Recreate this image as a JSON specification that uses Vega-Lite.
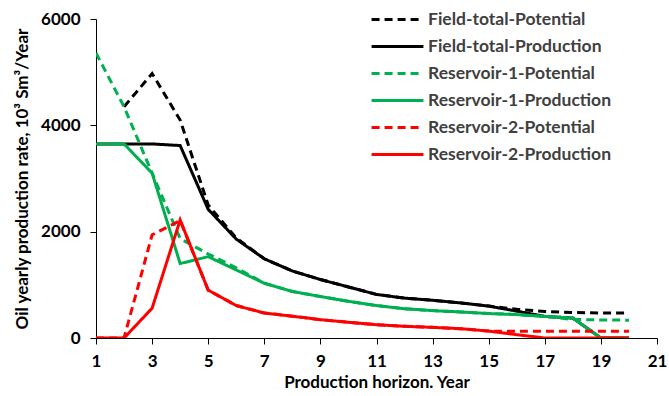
{
  "$schema": "https://vega.github.io/schema/vega-lite/v6.json",
  "width": 561,
  "height": 319,
  "autosize": {"type": "none"},
  "padding": {"left": 96, "top": 19, "right": 12, "bottom": 58},
  "background": "white",
  "config": {"view": {"stroke": null}, "font": "Lato"},
  "datasets": {
    "d": [
      {"series": "Field-total-Potential", "year": 2, "value": 4350},
      {"series": "Field-total-Potential", "year": 3, "value": 4975},
      {"series": "Field-total-Potential", "year": 4, "value": 4100},
      {"series": "Field-total-Potential", "year": 5, "value": 2500},
      {"series": "Field-total-Potential", "year": 6, "value": 1880},
      {"series": "Field-total-Potential", "year": 7, "value": 1490},
      {"series": "Field-total-Potential", "year": 8, "value": 1260},
      {"series": "Field-total-Potential", "year": 9, "value": 1100},
      {"series": "Field-total-Potential", "year": 10, "value": 960},
      {"series": "Field-total-Potential", "year": 11, "value": 820},
      {"series": "Field-total-Potential", "year": 12, "value": 750},
      {"series": "Field-total-Potential", "year": 13, "value": 710},
      {"series": "Field-total-Potential", "year": 14, "value": 660},
      {"series": "Field-total-Potential", "year": 15, "value": 600},
      {"series": "Field-total-Potential", "year": 16, "value": 540},
      {"series": "Field-total-Potential", "year": 17, "value": 500},
      {"series": "Field-total-Potential", "year": 18, "value": 480},
      {"series": "Field-total-Potential", "year": 19, "value": 470},
      {"series": "Field-total-Potential", "year": 20, "value": 470},
      {"series": "Field-total-Production", "year": 1, "value": 3650},
      {"series": "Field-total-Production", "year": 2, "value": 3650},
      {"series": "Field-total-Production", "year": 3, "value": 3650},
      {"series": "Field-total-Production", "year": 4, "value": 3620},
      {"series": "Field-total-Production", "year": 5, "value": 2420},
      {"series": "Field-total-Production", "year": 6, "value": 1860},
      {"series": "Field-total-Production", "year": 7, "value": 1490},
      {"series": "Field-total-Production", "year": 8, "value": 1260},
      {"series": "Field-total-Production", "year": 9, "value": 1100},
      {"series": "Field-total-Production", "year": 10, "value": 960},
      {"series": "Field-total-Production", "year": 11, "value": 820},
      {"series": "Field-total-Production", "year": 12, "value": 750},
      {"series": "Field-total-Production", "year": 13, "value": 710},
      {"series": "Field-total-Production", "year": 14, "value": 660},
      {"series": "Field-total-Production", "year": 15, "value": 600},
      {"series": "Field-total-Production", "year": 16, "value": 505},
      {"series": "Field-total-Production", "year": 17, "value": 406},
      {"series": "Field-total-Production", "year": 18, "value": 375},
      {"series": "Field-total-Production", "year": 19, "value": 0},
      {"series": "Field-total-Production", "year": 20, "value": 0},
      {"series": "Reservoir-1-Potential", "year": 1, "value": 5360},
      {"series": "Reservoir-1-Potential", "year": 2, "value": 4350},
      {"series": "Reservoir-1-Potential", "year": 3, "value": 3100},
      {"series": "Reservoir-1-Potential", "year": 4, "value": 1870},
      {"series": "Reservoir-1-Potential", "year": 5, "value": 1580},
      {"series": "Reservoir-1-Potential", "year": 6, "value": 1320},
      {"series": "Reservoir-1-Potential", "year": 7, "value": 1030},
      {"series": "Reservoir-1-Potential", "year": 8, "value": 875},
      {"series": "Reservoir-1-Potential", "year": 9, "value": 780},
      {"series": "Reservoir-1-Potential", "year": 10, "value": 690},
      {"series": "Reservoir-1-Potential", "year": 11, "value": 610},
      {"series": "Reservoir-1-Potential", "year": 12, "value": 550},
      {"series": "Reservoir-1-Potential", "year": 13, "value": 515},
      {"series": "Reservoir-1-Potential", "year": 14, "value": 490},
      {"series": "Reservoir-1-Potential", "year": 15, "value": 460},
      {"series": "Reservoir-1-Potential", "year": 16, "value": 440},
      {"series": "Reservoir-1-Potential", "year": 17, "value": 406},
      {"series": "Reservoir-1-Potential", "year": 18, "value": 350},
      {"series": "Reservoir-1-Potential", "year": 19, "value": 340},
      {"series": "Reservoir-1-Potential", "year": 20, "value": 335},
      {"series": "Reservoir-1-Production", "year": 1, "value": 3650},
      {"series": "Reservoir-1-Production", "year": 2, "value": 3650},
      {"series": "Reservoir-1-Production", "year": 3, "value": 3100},
      {"series": "Reservoir-1-Production", "year": 4, "value": 1400},
      {"series": "Reservoir-1-Production", "year": 5, "value": 1530},
      {"series": "Reservoir-1-Production", "year": 6, "value": 1280},
      {"series": "Reservoir-1-Production", "year": 7, "value": 1030},
      {"series": "Reservoir-1-Production", "year": 8, "value": 875},
      {"series": "Reservoir-1-Production", "year": 9, "value": 780},
      {"series": "Reservoir-1-Production", "year": 10, "value": 690},
      {"series": "Reservoir-1-Production", "year": 11, "value": 610},
      {"series": "Reservoir-1-Production", "year": 12, "value": 550},
      {"series": "Reservoir-1-Production", "year": 13, "value": 515},
      {"series": "Reservoir-1-Production", "year": 14, "value": 490},
      {"series": "Reservoir-1-Production", "year": 15, "value": 460},
      {"series": "Reservoir-1-Production", "year": 16, "value": 440},
      {"series": "Reservoir-1-Production", "year": 17, "value": 406},
      {"series": "Reservoir-1-Production", "year": 18, "value": 375},
      {"series": "Reservoir-1-Production", "year": 19, "value": 0},
      {"series": "Reservoir-1-Production", "year": 20, "value": 0},
      {"series": "Reservoir-2-Potential", "year": 1, "value": 0},
      {"series": "Reservoir-2-Potential", "year": 2, "value": 0},
      {"series": "Reservoir-2-Potential", "year": 3, "value": 1940},
      {"series": "Reservoir-2-Potential", "year": 4, "value": 2210},
      {"series": "Reservoir-2-Potential", "year": 5, "value": 900},
      {"series": "Reservoir-2-Potential", "year": 6, "value": 610},
      {"series": "Reservoir-2-Potential", "year": 7, "value": 470},
      {"series": "Reservoir-2-Potential", "year": 8, "value": 410},
      {"series": "Reservoir-2-Potential", "year": 9, "value": 345},
      {"series": "Reservoir-2-Potential", "year": 10, "value": 295},
      {"series": "Reservoir-2-Potential", "year": 11, "value": 250},
      {"series": "Reservoir-2-Potential", "year": 12, "value": 220},
      {"series": "Reservoir-2-Potential", "year": 13, "value": 200},
      {"series": "Reservoir-2-Potential", "year": 14, "value": 175},
      {"series": "Reservoir-2-Potential", "year": 15, "value": 130},
      {"series": "Reservoir-2-Potential", "year": 16, "value": 125},
      {"series": "Reservoir-2-Potential", "year": 17, "value": 125},
      {"series": "Reservoir-2-Potential", "year": 18, "value": 125},
      {"series": "Reservoir-2-Potential", "year": 19, "value": 125},
      {"series": "Reservoir-2-Potential", "year": 20, "value": 125},
      {"series": "Reservoir-2-Production", "year": 1, "value": 0},
      {"series": "Reservoir-2-Production", "year": 2, "value": 0},
      {"series": "Reservoir-2-Production", "year": 3, "value": 560},
      {"series": "Reservoir-2-Production", "year": 4, "value": 2220},
      {"series": "Reservoir-2-Production", "year": 5, "value": 900},
      {"series": "Reservoir-2-Production", "year": 6, "value": 610},
      {"series": "Reservoir-2-Production", "year": 7, "value": 470},
      {"series": "Reservoir-2-Production", "year": 8, "value": 410},
      {"series": "Reservoir-2-Production", "year": 9, "value": 345},
      {"series": "Reservoir-2-Production", "year": 10, "value": 295},
      {"series": "Reservoir-2-Production", "year": 11, "value": 250},
      {"series": "Reservoir-2-Production", "year": 12, "value": 220},
      {"series": "Reservoir-2-Production", "year": 13, "value": 200},
      {"series": "Reservoir-2-Production", "year": 14, "value": 175},
      {"series": "Reservoir-2-Production", "year": 15, "value": 130},
      {"series": "Reservoir-2-Production", "year": 16, "value": 62},
      {"series": "Reservoir-2-Production", "year": 17, "value": 0},
      {"series": "Reservoir-2-Production", "year": 18, "value": 0},
      {"series": "Reservoir-2-Production", "year": 19, "value": 0},
      {"series": "Reservoir-2-Production", "year": 20, "value": 0}
    ]
  },
  "data": {"name": "d"},
  "mark": {"type": "line", "strokeWidth": 3, "clip": true},
  "encoding": {
    "x": {
      "field": "year", "type": "quantitative",
      "scale": {"domain": [1, 21], "nice": false, "zero": false},
      "axis": {
        "values": [1, 3, 5, 7, 9, 11, 13, 15, 17, 19, 21],
        "format": "d",
        "title": "Production horizon. Year",
        "grid": false, "domainColor": "#000", "tickColor": "#000",
        "tickSize": 6, "labelFontSize": 17, "labelFontWeight": "bold", "labelColor": "#000",
        "labelPadding": 9, "titleFontSize": 17, "titleFontWeight": "bold", "titleColor": "#000",
        "titlePadding": 5, "labelFlush": false
      }
    },
    "y": {
      "field": "value", "type": "quantitative",
      "scale": {"domain": [0, 6000], "nice": false},
      "axis": {
        "values": [0, 2000, 4000, 6000],
        "format": "d",
        "title": "Oil yearly production rate, 10³ Sm³/Year",
        "grid": false, "domainColor": "#000", "tickColor": "#000",
        "tickSize": 6, "labelFontSize": 17, "labelFontWeight": "bold", "labelColor": "#000",
        "labelPadding": 10, "titleFontSize": 17, "titleFontWeight": "bold", "titleColor": "#000",
        "titlePadding": 9, "labelFlush": false
      }
    },
    "color": {
      "field": "series", "type": "nominal",
      "scale": {
        "domain": ["Field-total-Potential", "Field-total-Production", "Reservoir-1-Potential", "Reservoir-1-Production", "Reservoir-2-Potential", "Reservoir-2-Production"],
        "range": ["#000000", "#000000", "#00B050", "#00B050", "#FF0000", "#FF0000"]
      },
      "legend": {
        "orient": "none", "legendX": 284, "legendY": -17, "title": null,
        "symbolType": "M-1.64,0H1.64", "symbolSize": 1000, "symbolStrokeWidth": 3,
        "labelFontSize": 17.5, "labelFontWeight": "bold", "labelColor": "#404040",
        "labelLimit": 400,
        "rowPadding": 1, "labelOffset": 13
      }
    },
    "strokeDash": {
      "field": "series", "type": "nominal",
      "scale": {
        "domain": ["Field-total-Potential", "Field-total-Production", "Reservoir-1-Potential", "Reservoir-1-Production", "Reservoir-2-Potential", "Reservoir-2-Production"],
        "range": [[8, 5], [1, 0], [8, 5], [1, 0], [8, 5], [1, 0]]
      },
      "legend": null
    },
    "order": {"field": "year"}
  }
}
